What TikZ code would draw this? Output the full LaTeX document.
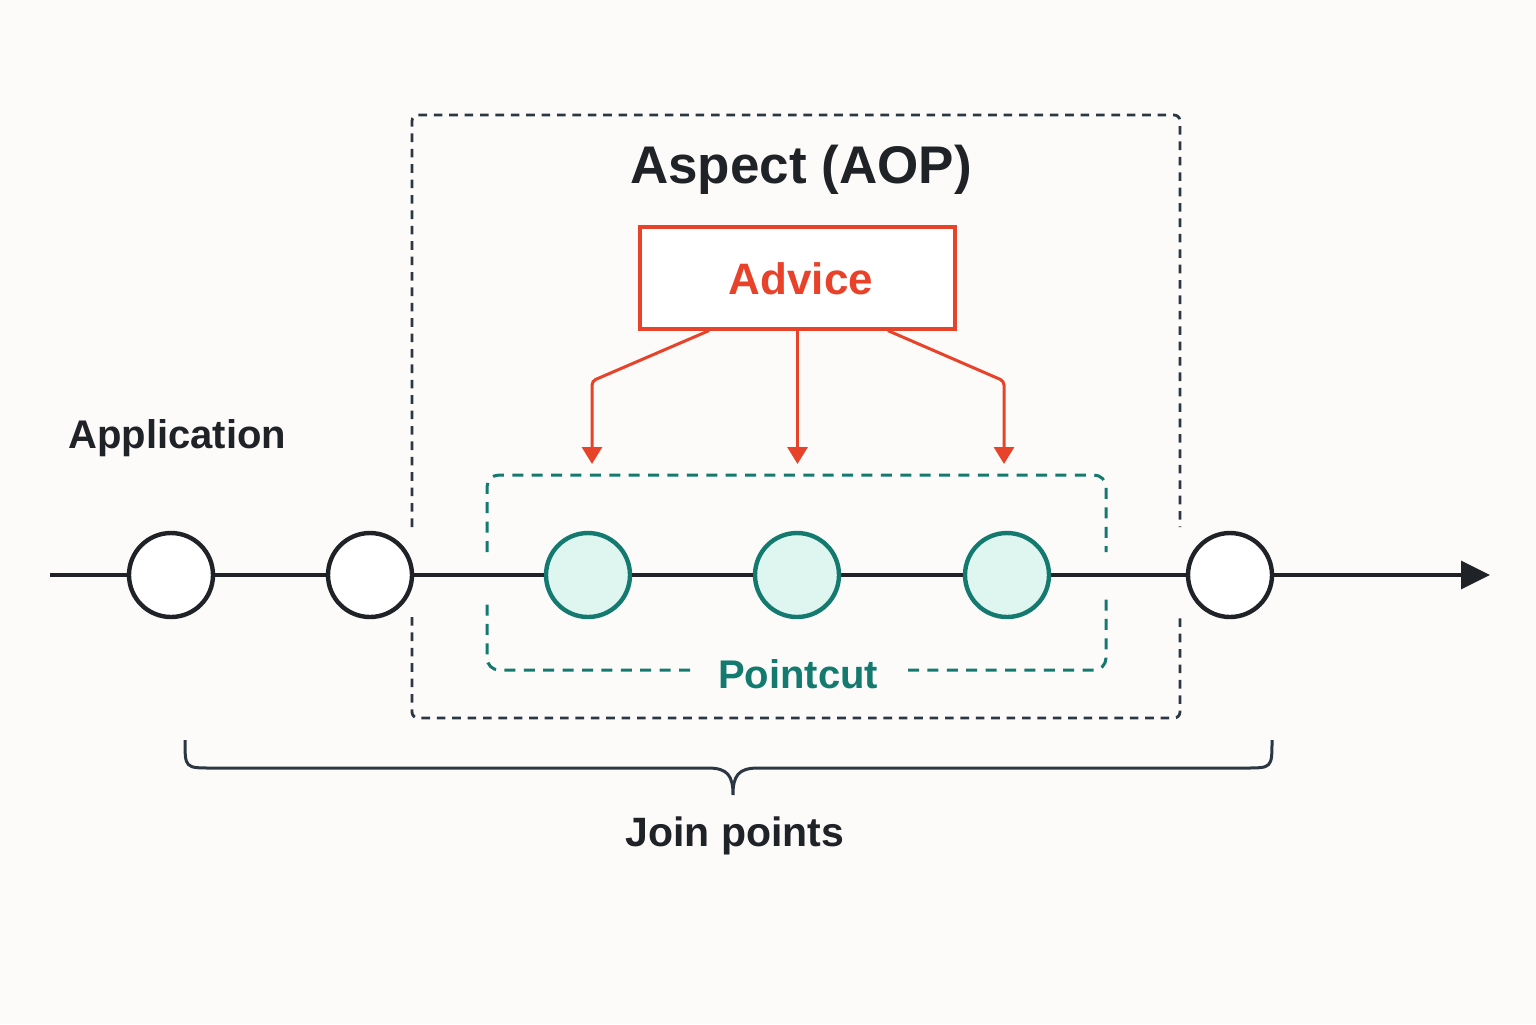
\documentclass[tikz,border=0pt]{standalone}
\usepackage{fontspec}
\setmainfont{Liberation Sans}
\usetikzlibrary{arrows.meta,calc}
\definecolor{bgc}{HTML}{FCFBF9}
\definecolor{ink}{HTML}{1F2328}
\definecolor{slate}{HTML}{2B3844}
\definecolor{advred}{HTML}{E8432A}
\definecolor{teal}{HTML}{147A70}
\definecolor{tealfill}{HTML}{DEF5F0}
\tikzset{
  plainjp/.style={circle, draw=ink, line width=2.2pt, fill=white, minimum size=42pt, inner sep=0pt},
  cutjp/.style={circle, draw=teal, line width=2.2pt, fill=tealfill, minimum size=42pt, inner sep=0pt},
  timeline/.style={draw=ink, line width=1.7pt},
  aspectbox/.style={draw=slate, line width=1.4pt, dash pattern=on 4.3pt off 3.4pt, rounded corners=3pt},
  cutbox/.style={draw=teal, line width=1.5pt, dash pattern=on 5.5pt off 4.2pt, rounded corners=6pt},
  advarrow/.style={draw=advred, line width=1.5pt, rounded corners=2pt, -{Triangle[length=8.5pt,width=10pt]}},
  advicebox/.style={draw=advred, line width=1.6pt, fill=white, minimum width=157.5pt, minimum height=51pt, inner sep=0pt},
  lbl/.style={font=\fontsize{20}{24}\selectfont\bfseries, text=ink, inner sep=0pt}
}
\begin{document}
\begin{tikzpicture}[x=0.5pt,y=-0.5pt]
\fill[bgc] (0,0) rectangle (1536,1024);
\useasboundingbox (0,0) rectangle (1536,1024);

% outer aspect box (dashed, broken around the timeline)
\draw[aspectbox] (412,527) -- (412,115) -- (1180,115) -- (1180,527);
\draw[aspectbox] (412,617) -- (412,718) -- (1180,718) -- (1180,617);

% pointcut box
\draw[cutbox] (487,552) -- (487,475) -- (1106,475) -- (1106,552);
\draw[cutbox] (690,670) -- (487,670) -- (487,598);
\draw[cutbox] (908,670) -- (1106,670) -- (1106,598);

% titles
\node[font=\fontsize{26.5}{30}\selectfont\bfseries, text=ink, anchor=base, inner sep=0pt] (aspect) at (801,183) {Aspect (AOP)};
\node[advicebox] (advice) at (797.5,278) {};
\node[font=\fontsize{22}{26}\selectfont\bfseries, text=advred, anchor=base, inner sep=0pt] (advtext) at (801,294) {Advice};
\node[lbl, anchor=base west] (app) at (68,448) {Application};
\node[lbl, text=teal, anchor=base] (pointcut) at (798,688) {Pointcut};
\node[font=\fontsize{20.5}{24}\selectfont\bfseries, text=ink, anchor=base, inner sep=0pt] (join) at (735,846) {Join points};

% timeline
\coordinate (tstart) at (50,575);
\coordinate (tend) at (1490,575);
\node[plainjp] (c1) at (171,575) {};
\node[plainjp] (c2) at (370,575) {};
\node[cutjp] (c3) at (588,575) {};
\node[cutjp] (c4) at (797,575) {};
\node[cutjp] (c5) at (1007,575) {};
\node[plainjp] (c6) at (1230,575) {};
\draw[timeline] (tstart) -- (c1);
\draw[timeline] (c1) -- (c2);
\draw[timeline] (c2) -- (c3);
\draw[timeline] (c3) -- (c4);
\draw[timeline] (c4) -- (c5);
\draw[timeline] (c5) -- (c6);
\draw[timeline, -{Triangle[length=14.5pt,width=14pt]}] (c6) -- (tend);

% advice arrows
\coordinate (a1) at (592,464);
\coordinate (a2) at (797.5,464);
\coordinate (a3) at (1004,464);
\draw[advarrow] ($(advice.south west)!0.222!(advice.south east)$) -- (592,381) -- (a1);
\draw[advarrow] (advice.south) -- (a2);
\draw[advarrow] ($(advice.south west)!0.784!(advice.south east)$) -- (1004,381) -- (a3);

% brace
\draw[slate, line width=1.5pt]
  (185,740) .. controls (185,768) .. (212,768) -- (708,768)
  .. controls (728,768) and (733,776) .. (733,795)
  .. controls (733,776) and (738,768) .. (758,768) -- (1245,768)
  .. controls (1272,768) .. (1272,740);
\end{tikzpicture}
\end{document}
